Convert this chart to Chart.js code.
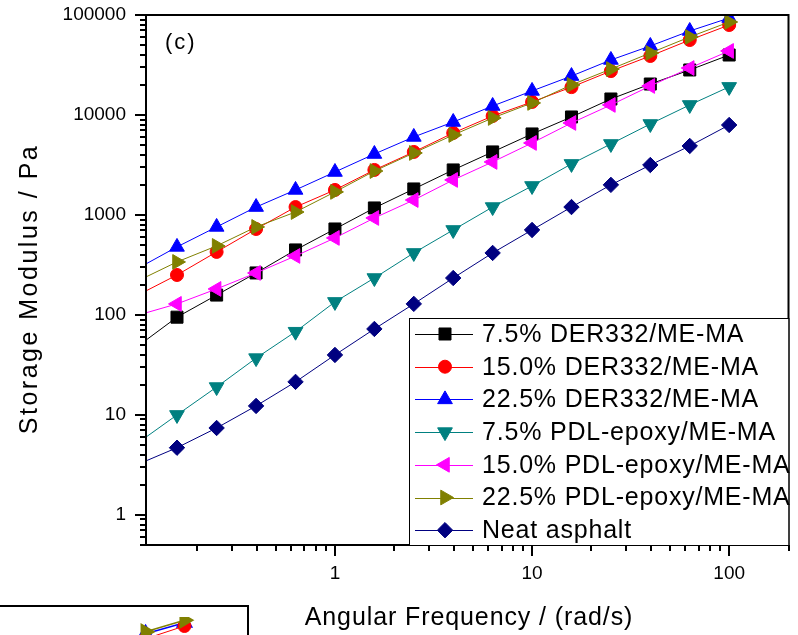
<!DOCTYPE html>
<html>
<head>
<meta charset="utf-8">
<script src="https://cdn.jsdelivr.net/npm/chart.js@4.4.1/dist/chart.umd.min.js"></script>
<style>
body { margin: 0; background: #fff; overflow: hidden; }
#wrap { position: relative; width: 798px; height: 635px; overflow: hidden; }
#inset { position: absolute; left: -11px; top: 605px; width: 260px; height: 60px; border: 2px solid #000; box-sizing: border-box; }
#inset canvas { position: absolute; left: 0; top: 0; }
</style>
</head>
<body>
<div id="wrap">
  <canvas id="modulus" width="798" height="635"></canvas>
  <div id="inset"><canvas id="insetChart" width="256" height="56"></canvas></div>
</div>
<script>
// angular frequency (rad/s), 5 points per decade
var freq = [0.158, 0.251, 0.398, 0.631, 1, 1.585, 2.512, 3.981, 6.31, 10, 15.85, 25.12, 39.81, 63.1, 100];
var freqStart = 0.11;   // where the drawn lines begin (left edge)

// storage modulus (Pa)
var der75  = [95, 158, 263, 447, 724, 1175, 1820, 2820, 4270, 6460, 9550, 14450, 20400, 28200, 39800];
var der150 = [251, 427, 724, 1200, 1780, 2820, 4270, 6610, 9770, 13500, 19000, 27500, 38900, 56200, 79400];
var der225 = [479, 759, 1200, 1780, 2690, 4070, 6030, 8510, 12300, 17400, 24500, 35500, 49000, 69200, 93300];
var pdl75  = [10, 19, 37, 68, 135, 234, 417, 708, 1200, 1950, 3240, 5130, 8130, 12600, 19100];
var pdl150 = [129, 182, 263, 389, 589, 933, 1410, 2240, 3390, 5250, 8320, 12600, 19500, 29500, 43700];
var pdl225 = [339, 490, 759, 1070, 1700, 2750, 4170, 6310, 9330, 13200, 20000, 28800, 41700, 60300, 85100];
var neat   = [4.7, 7.4, 12.3, 21.4, 39.8, 72.4, 129, 234, 417, 708, 1200, 2000, 3160, 4900, 7940];
// line value at the left edge of the plot
var startVals = [56, 174, 324, 6.0, 105, 240, 3.47];

var seriesNames = ['7.5% DER332/ME-MA', '15.0% DER332/ME-MA', '22.5% DER332/ME-MA',
  '7.5% PDL-epoxy/ME-MA', '15.0% PDL-epoxy/ME-MA', '22.5% PDL-epoxy/ME-MA', 'Neat asphalt'];
var seriesVals = [der75, der150, der225, pdl75, pdl150, pdl225, neat];
var colors = ['#000000', '#ff0000', '#0000ff', '#008080', '#ff00ff', '#808000', '#000080'];
var shapes = ['rect', 'circle', 'triangle', 'triangle', 'triangle', 'triangle', 'rectRot'];
var turns  = [0, 0, 0, 180, 270, 90, 0];
var sizes  = [8.5, 6.5, 8.5, 8.5, 8.5, 8.5, 7.7];

var xMajor = [1, 10, 100];
var yMajor = [1, 10, 100, 1000, 10000, 100000];

// fragment of the neighbouring panel (bottom-left corner)
var insetFreq = [0.158, 0.251];
var insetBlue = [5500, 8130];
var insetRed = [4570, 7240];
var insetOlive = [5890, 8910];

var FONT = "'Liberation Sans', Arial, sans-serif";

function logTicks(min, max) {
  var out = [];
  for (var e = -2; e <= 6; e++) {
    for (var m = 1; m <= 9; m++) {
      var v = m * Math.pow(10, e);
      if (v >= min * 0.999 && v <= max * 1.001) out.push({ v: v, major: m === 1 });
    }
  }
  return out;
}

var datasets = seriesNames.map(function(name, i) {
  var pts = [{ x: freqStart, y: startVals[i] }];
  freq.forEach(function(f, j) { pts.push({ x: f, y: seriesVals[i][j] }); });
  return {
    label: name,
    data: pts,
    borderColor: colors[i],
    backgroundColor: colors[i],
    borderWidth: 1,
    pointStyle: shapes[i],
    rotation: turns[i],
    pointRadius: function(c) { return c.dataIndex === 0 ? 0 : sizes[i]; },
    pointBorderWidth: 1,
    pointHoverRadius: sizes[i],
    tension: 0,
    order: 7 - i
  };
});

var frame = {
  id: 'frame',
  afterDraw: function(chart) {
    var ctx = chart.ctx, a = chart.chartArea;
    var xs = chart.scales.x, ys = chart.scales.y;
    ctx.save();
    ctx.strokeStyle = '#000';
    ctx.lineWidth = 2;
    ctx.strokeRect(a.left, a.top, a.right - a.left, a.bottom - a.top);

    // tick marks, outward
    ctx.beginPath();
    logTicks(xs.min, xs.max).forEach(function(t) {
      var px = Math.round(xs.getPixelForValue(t.v));
      ctx.moveTo(px, a.bottom);
      ctx.lineTo(px, a.bottom + (t.major ? 11 : 6));
    });
    logTicks(ys.min, ys.max).forEach(function(t) {
      var py = Math.round(ys.getPixelForValue(t.v));
      ctx.moveTo(a.left, py);
      ctx.lineTo(a.left - (t.major ? 11 : 6), py);
    });
    ctx.stroke();

    // tick labels
    ctx.fillStyle = '#000';
    ctx.font = '19px ' + FONT;
    ctx.textBaseline = 'middle';
    ctx.textAlign = 'center';
    xMajor.forEach(function(v) { ctx.fillText(String(v), xs.getPixelForValue(v), 574); });
    ctx.textAlign = 'right';
    yMajor.forEach(function(v) { ctx.fillText(String(v), a.left - 20, ys.getPixelForValue(v)); });

    // axis titles
    ctx.font = '25px ' + FONT;
    ctx.letterSpacing = '0.9px';
    ctx.textAlign = 'center';
    ctx.textBaseline = 'alphabetic';
    ctx.fillText('Angular Frequency / (rad/s)', 469, 625);
    ctx.save();
    ctx.letterSpacing = '2.5px';
    ctx.translate(37, 289);
    ctx.rotate(-Math.PI / 2);
    ctx.fillText('Storage Modulus / Pa', 0, 0);
    ctx.restore();

    // panel label
    ctx.font = '22px ' + FONT;
    ctx.letterSpacing = '2px';
    ctx.textAlign = 'left';
    ctx.fillText('(c)', 165, 49);

    // legend box
    var lx = 409, ly = 318, lr = a.right, lb = a.bottom;
    ctx.fillStyle = '#fff';
    ctx.fillRect(lx, ly, lr - lx, lb - ly);
    ctx.lineWidth = 1;
    ctx.strokeStyle = '#000';
    ctx.strokeRect(lx + 0.5, ly + 0.5, lr - lx, lb - ly);
    ctx.font = '25px ' + FONT;
    ctx.letterSpacing = '0.8px';
    ctx.textBaseline = 'middle';
    seriesNames.forEach(function(name, i) {
      var ry = 334 + i * 32.7;
      ctx.strokeStyle = colors[i];
      ctx.fillStyle = colors[i];
      ctx.lineWidth = 1;
      ctx.beginPath();
      ctx.moveTo(415, Math.round(ry) + 0.5);
      ctx.lineTo(473, Math.round(ry) + 0.5);
      ctx.stroke();
      if (Chart.helpers && Chart.helpers.drawPoint) {
        Chart.helpers.drawPoint(ctx, { pointStyle: shapes[i], rotation: turns[i], radius: sizes[i], borderWidth: 1 }, 445, ry);
      }
      ctx.fillStyle = '#000';
      ctx.fillText(name, 482, ry + 1);
    });
    ctx.restore();
  }
};

new Chart(document.getElementById('modulus'), {
  type: 'line',
  data: { datasets: datasets },
  options: {
    responsive: false,
    animation: false,
    layout: { padding: { top: 15, right: 6, left: 0, bottom: 0 } },
    plugins: { legend: { display: false }, tooltip: { enabled: false } },
    scales: {
      x: {
        type: 'logarithmic', min: freqStart, max: 200,
        grid: { display: false, drawTicks: false },
        border: { display: false },
        ticks: { display: false },
        afterFit: function(s) { s.height = 90; s.paddingLeft = 0; s.paddingRight = 0; }
      },
      y: {
        type: 'logarithmic', min: 0.5, max: 100000,
        grid: { display: false, drawTicks: false },
        border: { display: false },
        ticks: { display: false },
        afterFit: function(s) { s.width = 146; s.paddingTop = 0; s.paddingBottom = 0; }
      }
    }
  },
  plugins: [frame]
});

new Chart(document.getElementById('insetChart'), {
  type: 'line',
  data: {
    datasets: [
      { data: insetFreq.map(function(f, j) { return { x: f, y: insetBlue[j] }; }), borderColor: '#0000ff', backgroundColor: '#0000ff',
        borderWidth: 1.5, pointStyle: 'triangle', pointRadius: 8.5, order: 3 },
      { data: insetFreq.map(function(f, j) { return { x: f, y: insetRed[j] }; }), borderColor: '#ff0000', backgroundColor: '#ff0000',
        borderWidth: 1, pointStyle: 'circle', pointRadius: 6.5, order: 2 },
      { data: insetFreq.map(function(f, j) { return { x: f, y: insetOlive[j] }; }), borderColor: '#808000', backgroundColor: '#808000',
        borderWidth: 1.5, pointStyle: 'triangle', rotation: 90, pointRadius: 8.5, order: 1 }
    ]
  },
  options: {
    responsive: false,
    animation: false,
    layout: { padding: 0 },
    plugins: { legend: { display: false }, tooltip: { enabled: false } },
    scales: {
      x: { type: 'logarithmic', min: 0.0283, max: 0.469, display: false },
      y: { type: 'logarithmic', min: 2750, max: 10000, display: false }
    }
  }
});
</script>
</body>
</html>
